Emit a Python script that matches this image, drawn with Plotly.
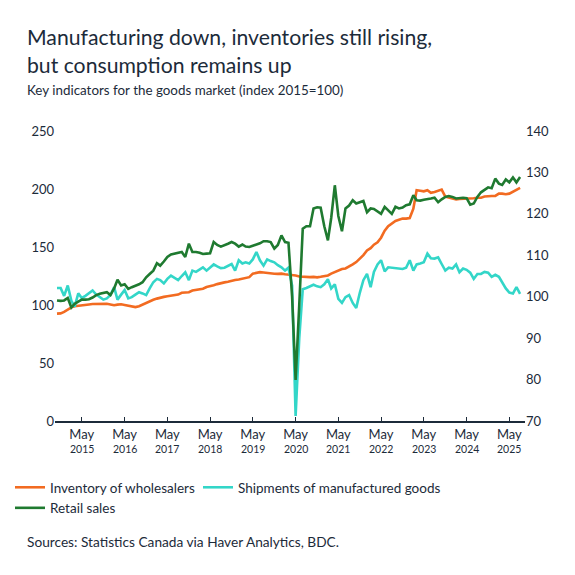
import pandas as pd
import plotly.graph_objects as go

# Monthly observations (first point Oct 2014, last Aug 2025)
start_month = "2014-10-01"
n_months = 131

inventory_wholesalers = [
    92.6, 92.8, 94, 96, 98, 99, 99.5, 99.8, 100.2, 100.5,
    100.8, 101, 101.2, 101.2, 101, 100.5, 99.8, 100.3, 100.6, 100,
    99.5, 99, 98.2, 99, 100.5, 102, 103.5, 104.5, 105.5, 106.5,
    107, 107.5, 108, 108.3, 109, 110.5, 111, 111, 112.5, 113,
    113, 114, 115.5, 116, 117, 118, 119, 119.5, 120, 121,
    121.5, 122, 122.5, 123, 124, 127, 128, 128.3, 128, 127.5,
    127.2, 127, 126.8, 127, 126.5, 126.3, 126.3, 125.5, 124.6, 124.3,
    124, 124, 124.2, 123.8, 124.3, 124.6, 125.5, 127, 128.5, 130,
    131, 131.5, 133, 135, 137, 140, 143, 147, 149, 152,
    154, 158, 164, 168, 170.5, 172.5, 173.5, 174.5, 174.5, 175,
    183, 199, 198.5, 198, 199, 196.7, 197.5, 198.5, 199.5, 193.5,
    192.5, 191.5, 191, 191.5, 191.5, 192, 191.5, 192, 192.5, 192.5,
    193.5, 194, 194, 194, 196, 196, 195.5, 196, 197.5, 199,
    201,
]

shipments_manufactured = [
    102.1, 102.1, 100.2, 102.7, 99, 97.6, 100.8, 99.7, 100.2, 100.8,
    101.5, 100.5, 99.9, 99.3, 99.6, 100.4, 102.3, 99.3, 100.5, 101.6,
    99.6, 99.9, 100.5, 101.1, 100.8, 100.4, 102, 103.5, 104.3, 104,
    103.2, 104.3, 105.1, 104.5, 104, 105, 105.9, 104, 106.3, 106,
    106.5, 107.1, 106.3, 107, 107.8, 107.3, 106.9, 107, 107.5, 107.9,
    106.3, 108.8, 108, 108.3, 108, 109, 110.8, 108.8, 107.5, 109,
    108.6, 108.3, 107.6, 107.1, 106.3, 107, 102.7, 71.2, 90, 101.8,
    102.1, 102.5, 102.9, 102.5, 102.3, 103, 104.2, 102, 103, 99.5,
    98.5, 99.9, 100.4, 98.5, 97.3, 101, 104, 105.5, 102.3, 106,
    107.8, 108.8, 106.1, 107.1, 107, 106.8, 106.7, 106.7, 107, 108.8,
    106.3, 107.8, 108, 108.3, 110.4, 109.3, 109.2, 109.5, 107.9, 106.3,
    107, 106.8, 107.8, 105.9, 106.8, 106.5, 105.8, 104.3, 105.5, 105.5,
    106, 105.8, 104.8, 105.3, 104.8, 103.5, 102, 101, 100.8, 102.3,
    100.7,
]

retail_sales = [
    99.1, 99, 99.1, 99.7, 97.4, 98.3, 98.8, 99.3, 99.3, 99.4,
    99.8, 100.4, 100.7, 100.9, 101.1, 100.4, 102, 104.1, 102.7, 103,
    101.9, 102.3, 102.6, 103, 103.5, 104.7, 105.5, 106.3, 108.1, 107.5,
    108.5, 109.6, 110.2, 110.4, 110.6, 110.8, 109.6, 112.8, 110.8, 110.8,
    110.6, 110.3, 110.4, 110.5, 113.2, 112.5, 112.1, 112.4, 112.8, 113.2,
    112.8, 112.1, 112.6, 112.1, 112, 112.3, 112.6, 112.9, 113.4, 113.4,
    113.2, 111.6, 112.5, 114.8, 113.2, 113, 100, 79.9, 98, 116.4,
    117, 117, 121.3, 121.6, 121.5, 117, 113.6, 119, 126.9, 119.5,
    115.8, 121.3, 122, 123.3, 122.5, 122.8, 123.1, 120.4, 121.3, 121.2,
    120.6, 120, 121.7, 120.8, 120, 121.7, 121.3, 121.5, 122.1, 122.3,
    124.5, 123.3, 123.2, 123.4, 123.5, 123.7, 123.9, 122.8, 123.5, 124.1,
    124.3, 124.1, 123.7, 123.8, 123.9, 123.8, 122.2, 122.5, 124.1, 125.2,
    125.8, 126.4, 126.2, 128.5, 127.3, 127, 128.3, 127.6, 128.8, 127.6,
    128.9,
]

tick_years = [str(y) for y in range(2015, 2026)]
tick_month_label = "May"
left_ticks = [0, 50, 100, 150, 200, 250]
right_ticks = [70, 80, 90, 100, 110, 120, 130, 140]

dates = pd.date_range(start_month, periods=n_months, freq="MS")

ORANGE = "#F26B21"
CYAN = "#33D6C8"
GREEN = "#1F7A30"
INK = "#1C2B3A"
FONT = "Lato"

W = H = 567
OFF = 8  # page body margin
# plot area in page coordinates
PL, PR, PT, PB = 55, 525, 131, 420.7
PW, PH = PR - PL, PB - PT


def px(xp):
    return (xp - PL) / PW


def py(yp):
    return (PB - yp) / PH


def cx(xp):
    return (xp - OFF) / W


def cy(yp):
    return 1 - (yp - OFF) / H


fig = go.Figure()
fig.add_trace(go.Scatter(x=dates, y=inventory_wholesalers, name="Inventory of wholesalers",
                         mode="lines", line=dict(color=ORANGE, width=2.6), yaxis="y",
                         legend="legend"))
fig.add_trace(go.Scatter(x=dates, y=shipments_manufactured, name="Shipments of manufactured goods",
                         mode="lines", line=dict(color=CYAN, width=2.6), yaxis="y2",
                         legend="legend2"))
fig.add_trace(go.Scatter(x=dates, y=retail_sales, name="Retail sales",
                         mode="lines", line=dict(color=GREEN, width=2.6), yaxis="y2",
                         legend="legend"))

tickvals = [pd.Timestamp(f"{y}-05-01") for y in tick_years]

legend_common = dict(orientation="v", xanchor="left", yanchor="top",
                     xref="container", yref="container",
                     font=dict(size=13.5, color=INK), tracegroupgap=0, itemwidth=30,
                     bgcolor="rgba(0,0,0,0)")

fig.update_layout(
    width=W, height=H,
    paper_bgcolor="white", plot_bgcolor="white",
    margin=dict(l=PL - OFF, r=W - (PR - OFF), t=PT - OFF, b=H - (PB - OFF), autoexpand=False),
    font=dict(family=FONT, color=INK, size=13),
    showlegend=True,
    legend=dict(x=cx(10), y=cy(472), **legend_common),
    legend2=dict(x=cx(198), y=cy(472), **legend_common),
    xaxis=dict(
        type="date", automargin=False,
        range=["2014-09-14", "2025-09-12"],
        tickvals=tickvals, ticktext=[tick_month_label] * len(tickvals),
        ticks="inside", ticklen=4, tickwidth=1.2, tickcolor=INK,
        showline=True, linecolor=INK, linewidth=2,
        showgrid=False, zeroline=False,
        tickfont=dict(size=13, color=INK),
    ),
    yaxis=dict(
        range=[0, 250], tickvals=left_ticks, showgrid=False, zeroline=False,
        automargin=False, showline=False, ticks="", tickfont=dict(size=13, color=INK),
    ),
    yaxis2=dict(
        range=[70, 140], tickvals=right_ticks, overlaying="y", side="right",
        automargin=False, showgrid=False, zeroline=False, showline=False, ticks="",
        tickfont=dict(size=13, color=INK),
    ),
)

for tv, yr in zip(tickvals, tick_years):
    fig.add_annotation(xref="x", yref="paper", x=tv, y=py(449), xanchor="center",
                       yanchor="middle", showarrow=False, text=yr,
                       font=dict(size=10.5, color=INK, family=FONT))

fig.add_annotation(xref="paper", yref="paper", x=px(25), y=py(21.7),
                   xanchor="left", yanchor="top", align="left", showarrow=False,
                   text="Manufacturing down, inventories still rising,<br>but consumption remains up",
                   font=dict(size=21.2, color=INK, family=FONT))
fig.add_annotation(xref="paper", yref="paper", x=px(25), y=py(80.5),
                   xanchor="left", yanchor="top", align="left", showarrow=False,
                   text="Key indicators for the goods market (index 2015=100)",
                   font=dict(size=13.4, color=INK, family=FONT))
fig.add_annotation(xref="paper", yref="paper", x=px(25), y=py(531),
                   xanchor="left", yanchor="top", align="left", showarrow=False,
                   text="Sources: Statistics Canada via Haver Analytics, BDC.",
                   font=dict(size=13.7, color=INK, family=FONT))

fig.write_html("out.html")
